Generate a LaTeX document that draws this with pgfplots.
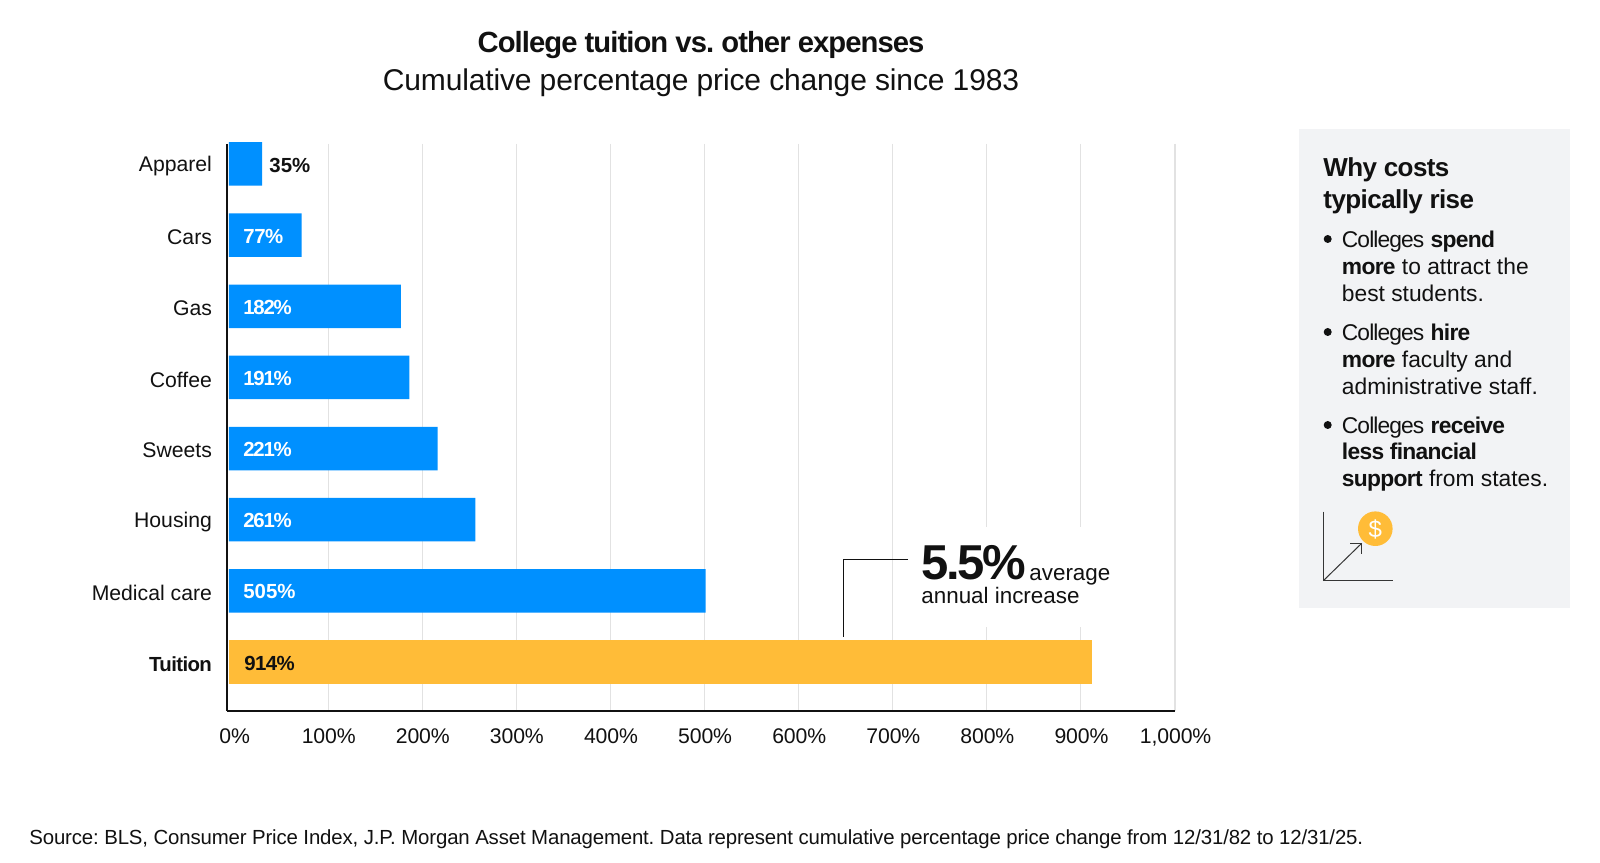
\documentclass[border=0pt]{standalone}
\usepackage{fontspec}
\setmainfont{Liberation Sans}
\usepackage{pgfplots}
\pgfplotsset{compat=1.18}
\definecolor{barblue}{HTML}{0090FF}
\definecolor{bargold}{HTML}{FFBC38}
\definecolor{panelbg}{HTML}{F2F3F5}
\definecolor{gridgray}{HTML}{E2E2E2}
\definecolor{ink}{HTML}{111111}
\newcommand{\fs}[1]{\fontsize{#1}{#1}\selectfont}
\newcommand{\ls}[1]{\addfontfeatures{LetterSpace=#1}}
\newcommand{\bb}[1]{{\bfseries\ls{-3}#1}}
\newcommand{\cg}{{\ls{-4}Colleges}}
\begin{document}
\frenchspacing
\begin{tikzpicture}
\useasboundingbox (0,0) rectangle (800pt,431pt);
\fill[white] (0,0) rectangle (800pt,431pt);
\begin{axis}[
	at={(113.5pt,75.5pt)}, anchor=south west,
	scale only axis,
	width=474pt, height=283.5pt,
	xbar, bar shift=0pt, bar width=21.75pt,
	axis lines=left,
	axis line style={-, ink, line width=1.2pt},
	xmin=-2.1, xmax=1002.1,
	ymin=0.719, ymax=8.688,
	y dir=reverse,
	xtick={105,204.7,304.3,404,503.7,603.4,703.1,802.7,902.4,1002.1},
	xticklabels={100\%,200\%,300\%,400\%,500\%,600\%,700\%,800\%,900\%,{1,000\%}},
	extra x ticks={5.3},
	extra x tick labels={0\%},
	extra x tick style={grid=none},
	ytick={1,2,3,4,5,6,7,8},
	yticklabels={Apparel,Cars,Gas,Coffee,Sweets,Housing,Medical care,{{\bfseries\fs{10.2}\ls{-3}Tuition}}},
	major tick length=0pt,
	xmajorgrids,
	grid style={gridgray, line width=0.6pt},
	tick label style={font=\fs{10.6}, text=ink},
	xticklabel style={font=\fs{10.6}\ls{-0.5}, yshift=-5.5pt, xshift=0.3pt},
	yticklabel style={xshift=-4pt, yshift=-1pt},
	clip=false,
]
\addplot[draw=none, fill=barblue] coordinates {
	(35,1) (77,2) (182,3) (191,4) (221,5) (261,6) (505,7)};
\addplot[draw=none, fill=bargold] coordinates {(914,8)};
\node[anchor=west, inner sep=0pt, yshift=-1pt, font=\fs{10.2}\bfseries, text=ink] at (axis cs:42.4,1) {35\%};
\node[anchor=west, inner sep=0pt, yshift=-0.5pt, font=\fs{10.2}\bfseries\ls{-2}, text=white] at (axis cs:14.8,2) {77\%};
\node[anchor=west, inner sep=0pt, yshift=-0.5pt, font=\fs{10.2}\bfseries\ls{-6}, text=white] at (axis cs:14.8,3) {182\%};
\node[anchor=west, inner sep=0pt, yshift=-0.5pt, font=\fs{10.2}\bfseries\ls{-6}, text=white] at (axis cs:14.8,4) {191\%};
\node[anchor=west, inner sep=0pt, yshift=-0.5pt, font=\fs{10.2}\bfseries\ls{-6}, text=white] at (axis cs:14.8,5) {221\%};
\node[anchor=west, inner sep=0pt, yshift=-0.5pt, font=\fs{10.2}\bfseries\ls{-6}, text=white] at (axis cs:14.8,6) {261\%};
\node[anchor=west, inner sep=0pt, yshift=-0.5pt, font=\fs{10.2}\bfseries, text=white] at (axis cs:14.8,7) {505\%};
\node[anchor=west, inner sep=0pt, yshift=-0.5pt, font=\fs{10.2}\bfseries\ls{-3}, text=ink] at (axis cs:15.9,8) {914\%};
\end{axis}
% everything below is in reference pixels, y downwards
\begin{scope}[x=0.5pt, y=-0.5pt, yshift=431pt, text=ink]
	\node[anchor=base, inner sep=0pt, font=\fs{14.6}\bfseries\ls{-3.2}] at (701,53) {College tuition vs. other expenses};
	\node[anchor=base, inner sep=0pt, font=\fs{15}\ls{-0.5}] at (701,91) {Cumulative percentage price change since 1983};
	\node[anchor=base west, inner sep=0pt, font=\fs{10.2}\ls{-0.75}] at (29,844) {Source: BLS, Consumer Price Index, J.P. Morgan Asset Management. Data represent cumulative percentage price change from 12/31/82 to 12/31/25.};
	% callout
	\fill[white] (900,527) rectangle (1120,627);
	\draw[ink, line width=0.5pt] (908,560) -- (843,560) -- (843,637);
	\node[anchor=base west, inner sep=0pt, font=\fs{24.5}\bfseries\ls{-4.5}] at (921,580) {5.5\%};
	\node[anchor=base west, inner sep=0pt, font=\fs{11.2}] at (1029,581) {average};
	\node[anchor=base west, inner sep=0pt, font=\fs{11.2}] at (921,604) {annual increase};
	% side panel
	\fill[panelbg] (1299,129) rectangle (1570,608);
	\node[anchor=base west, inner sep=0pt, font=\fs{13}\bfseries\ls{-2.2}] at (1323,177) {Why costs};
	\node[anchor=base west, inner sep=0pt, font=\fs{13}\bfseries\ls{-2.2}] at (1323,209) {typically rise};
	\fill[ink] (1327.7,239) circle (4);
	\fill[ink] (1327.7,332) circle (4);
	\fill[ink] (1327.7,425) circle (4);
	\begin{scope}[every node/.style={anchor=base west, inner sep=0pt, font=\fs{11.4}}]
		\node at (1341.5,247.5) {\cg{} \bb{spend}};
		\node at (1341.5,274.5) {\bb{more} to attract the};
		\node at (1341.5,301.5) {best students.};
		\node at (1341.5,340.5) {\cg{} \bb{hire}};
		\node at (1341.5,367.5) {\bb{more} faculty and};
		\node at (1341.5,394.5) {administrative staff.};
		\node at (1341.5,433.5) {\cg{} \bb{receive}};
		\node at (1341.5,460) {\bb{less financial}};
		\node at (1341.5,487) {\bb{support} from states.};
	\end{scope}
	% icon
	\draw[ink!85, line width=0.5pt] (1323.3,511.7) -- (1323.3,580.7) -- (1392.7,580.7);
	\draw[ink!85, line width=0.5pt] (1323.3,580.7) -- (1361.7,543.3);
	\draw[ink!85, line width=0.5pt] (1350,543.3) -- (1361.7,543.3) -- (1361.7,554);
	\fill[bargold] (1375.3,528.7) circle (17.3);
	\node[inner sep=0pt, text=white, font=\fs{12}] at (1375.3,529) {\$};
\end{scope}
\end{tikzpicture}
\end{document}
